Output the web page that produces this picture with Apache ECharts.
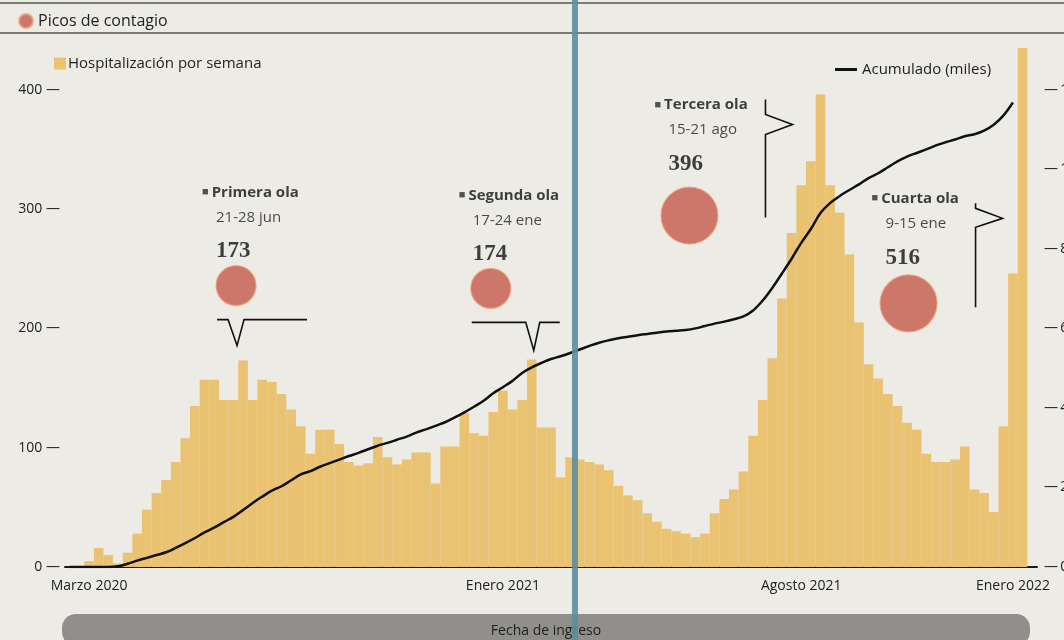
<!DOCTYPE html>
<html>
<head>
<meta charset="utf-8">
<script src="https://cdn.jsdelivr.net/npm/echarts@6/dist/echarts.min.js"></script>
<style>
html,body{margin:0;padding:0;background:#ecebe6;}
#chart{width:1064px;height:640px;}
</style>
</head>
<body>
<div id="chart"></div>
<script>
// ---------------- DATA ----------------
const weeks = [
 '2020-02-16','2020-02-23','2020-03-01','2020-03-08','2020-03-15','2020-03-22','2020-03-29',
 '2020-04-05','2020-04-12','2020-04-19','2020-04-26','2020-05-03','2020-05-10','2020-05-17',
 '2020-05-24','2020-05-31','2020-06-07','2020-06-14','2020-06-21','2020-06-28','2020-07-05',
 '2020-07-12','2020-07-19','2020-07-26','2020-08-02','2020-08-09','2020-08-16','2020-08-23',
 '2020-08-30','2020-09-06','2020-09-13','2020-09-20','2020-09-27','2020-10-04','2020-10-11',
 '2020-10-18','2020-10-25','2020-11-01','2020-11-08','2020-11-15','2020-11-22','2020-11-29',
 '2020-12-06','2020-12-13','2020-12-20','2020-12-27','2021-01-03','2021-01-10','2021-01-17',
 '2021-01-24','2021-01-31','2021-02-07','2021-02-14','2021-02-21','2021-02-28','2021-03-07',
 '2021-03-14','2021-03-21','2021-03-28','2021-04-04','2021-04-11','2021-04-18','2021-04-25',
 '2021-05-02','2021-05-09','2021-05-16','2021-05-23','2021-05-30','2021-06-06','2021-06-13',
 '2021-06-20','2021-06-27','2021-07-04','2021-07-11','2021-07-18','2021-07-25','2021-08-01',
 '2021-08-08','2021-08-15','2021-08-22','2021-08-29','2021-09-05','2021-09-12','2021-09-19',
 '2021-09-26','2021-10-03','2021-10-10','2021-10-17','2021-10-24','2021-10-31','2021-11-07',
 '2021-11-14','2021-11-21','2021-11-28','2021-12-05','2021-12-12','2021-12-19','2021-12-26',
 '2022-01-02','2022-01-09','2022-01-16'
];
// Hospitalización por semana
const hospitalizations = [
 null,null,5,16,10,3,12,
 28,48,62,73,88,108,135,
 157,157,140,140,173,140,157,
 155,145,132,118,95,115,115,
 103,88,85,87,109,92,86,
 90,96,96,70,101,101,129,
 112,110,130,148,132,140,174,
 117,117,75,92,90,88,86,
 81,68,60,56,45,38,32,
 30,28,25,28,45,57,65,
 80,110,140,175,225,280,320,
 340,396,320,297,262,205,170,
 158,145,135,121,115,95,88,
 88,90,101,65,62,46,118,
 246,516,null
];
// Acumulado (miles)
const cumulative = [
 0,0,0,0,0,0.02,0.08,
 0.16,0.23,0.30,0.37,0.48,0.60,0.73,
 0.87,0.99,1.13,1.26,1.43,1.61,1.77,
 1.92,2.03,2.18,2.33,2.41,2.52,2.61,
 2.70,2.79,2.87,2.96,3.05,3.12,3.20,
 3.28,3.38,3.46,3.55,3.64,3.76,3.89,
 4.03,4.18,4.37,4.52,4.68,4.88,5.02,
 5.13,5.23,5.30,5.38,5.47,5.56,5.64,
 5.70,5.75,5.79,5.83,5.86,5.89,5.92,
 5.94,5.96,6.00,6.06,6.12,6.17,6.23,
 6.30,6.45,6.70,7.02,7.38,7.75,8.15,
 8.50,8.90,9.15,9.33,9.48,9.62,9.78,
 9.90,10.05,10.20,10.32,10.41,10.50,10.60,
 10.68,10.75,10.83,10.88,10.97,11.12,11.35,
 11.68,null,null
];
// Picos de contagio
const peakNames  = ['Primera ola','Segunda ola','Tercera ola','Cuarta ola'];
const peakRanges = ['21-28 jun','17-24 ene','15-21 ago','9-15 ene'];
const peakWeeks  = ['2020-06-21','2021-01-17','2021-08-15','2022-01-09'];
const peakValues = [173,174,396,516];
// Tick labels
const xTickWeeks  = ['2020-03-01','2020-12-27','2021-08-01','2022-01-02'];
const xTickLabels = ['Marzo 2020','Enero 2021','Agosto 2021','Enero 2022'];
const leftTicks  = [0,100,200,300,400];
const rightTicks = [0,2,4,6,8,10,12];

// ---------------- STYLE ----------------
const FONT = '"Open Sans", "Noto Sans", sans-serif';
const BAR = '#e9c272';
const DOT = '#c65a4b';
const LEFT_MAX = 435, RIGHT_MAX = LEFT_MAX * 12 / 400;
// annotation placement (pixel offsets from each peak bar top)
const peakLook = [
  {off:[-7,-75],   size:40, lab:[-34,8]},
  {off:[-41,-71],  size:40, lab:[-32,8]},
  {off:[-131,121], size:57, lab:[-35,-1]},
  {off:[-114,352], size:57, lab:[-37,5]}
];
const bracketLook = [
  [[-26,-41],[-15,-41],[-6,-15],[1,-41],[64,-41]],
  [[-60,-37],[-6,-37],[2,-9],[8,-37],[28,-37]],
  [[-55,5],[-55,20],[-28,30],[-55,40],[-55,123]],
  [[-47,252],[-47,257],[-20,267],[-47,276],[-47,356]]
];

const chart = echarts.init(document.getElementById('chart'), null, {renderer:'canvas'});

const option = {
  backgroundColor: '#ecebe6',
  animation: false,
  textStyle: {fontFamily: FONT},
  grid: {left: 65, right: 27, top: 48, bottom: 73, containLabel: false, outerBoundsMode: 'none'},
  legend: [
    {data:['Picos de contagio'], left: 13, top: 8, icon:'circle', itemWidth: 14, itemHeight: 14,
     textStyle:{fontSize: 16, color:'#222', fontFamily: FONT}},
    {data:['Hospitalización por semana'], left: 49, top: 51, icon:'rect', itemWidth: 12, itemHeight: 12,
     itemGap: 0, textStyle:{fontSize: 15, color:'#222', fontFamily: FONT, padding:[0,0,0,-3]}},
    {data:['Acumulado (miles)'], left: 830, top: 57, icon:'rect', itemWidth: 22, itemHeight: 3,
     textStyle:{fontSize: 15, color:'#222', fontFamily: FONT}}
  ],
  xAxis: {
    type: 'category',
    data: weeks,
    boundaryGap: true,
    axisLine: {lineStyle: {color: '#1a1a1a', width: 2}},
    axisTick: {show: false},
    axisLabel: {
      interval: 0, margin: 12, fontSize: 14, color: '#222', fontFamily: FONT,
      formatter: v => { const i = xTickWeeks.indexOf(v); return i >= 0 ? xTickLabels[i] : ''; }
    }
  },
  yAxis: [
    {type:'value', min: 0, max: LEFT_MAX, interval: 100,
     axisLine:{show:false}, axisTick:{show:false}, splitLine:{show:false},
     axisLabel:{margin: 5, fontSize: 14, color:'#222', fontFamily: FONT,
       formatter: v => leftTicks.indexOf(v) >= 0 ? v + ' —' : ''}},
    {type:'value', min: 0, max: RIGHT_MAX, interval: 2,
     axisLine:{show:false}, axisTick:{show:false}, splitLine:{show:false},
     axisLabel:{margin: 7, fontSize: 14, color:'#222', fontFamily: FONT,
       formatter: v => rightTicks.indexOf(v) >= 0 ? '—\u2009' + v : ''}}
  ],
  series: [
    {
      name: 'Hospitalización por semana',
      type: 'bar',
      data: hospitalizations,
      barCategoryGap: '0%',
      itemStyle: {color: BAR},
      clip: true,
      z: 1
    },
    {
      name: 'Acumulado (miles)',
      type: 'line',
      yAxisIndex: 1,
      data: cumulative,
      smooth: 0.35,
      showSymbol: false,
      lineStyle: {color: '#111', width: 2.5},
      itemStyle: {color: '#111'},
      z: 3
    },
    {
      name: 'Picos de contagio',
      type: 'scatter',
      clip: false,
      z: 5,
      itemStyle: {color: DOT, borderColor: '#eba47c', borderWidth: 1.2},
      data: peakValues.map((v, i) => ({
        value: [peakWeeks[i], v],
        symbolSize: peakLook[i].size,
        symbolOffset: peakLook[i].off,
        label: {
          show: true, position: 'top', distance: 0, align: 'left',
          offset: peakLook[i].lab,
          formatter: '{b|■}{t|' + peakNames[i] + '}\n{d|' + peakRanges[i] + '}\n{v|' + v + '}',
          rich: {
            b: {fontSize: 11, color: '#2a2a2a', lineHeight: 25, padding:[0,3,1,0]},
            t: {fontSize: 15, fontWeight: 'bold', color: '#111', fontFamily: FONT, lineHeight: 25},
            d: {fontSize: 15, color: '#1e1e1e', fontFamily: FONT, lineHeight: 25, padding:[0,0,0,14]},
            v: {fontSize: 23, fontWeight: 'bold', color: '#111', fontFamily: '"Liberation Serif", "DejaVu Serif", serif', lineHeight: 43, padding:[0,0,0,14]}
          }
        }
      }))
    }
  ]
};
chart.setOption(option);

// annotation brackets, anchored to each peak through the axes
const gfx = [];
peakWeeks.forEach((w, i) => {
  const p = chart.convertToPixel({xAxisIndex: 0, yAxisIndex: 0}, [w, peakValues[i]]);
  gfx.push({
    type: 'polyline', z: 10, silent: true,
    shape: {points: bracketLook[i].map(d => [p[0] + d[0], p[1] + d[1]])},
    style: {stroke: '#111', lineWidth: 1.6, fill: null}
  });
});
// page rules, footer bar and gutter line
gfx.push(
  {type:'line', z: 10, silent:true, shape:{x1:0,y1:3,x2:1064,y2:3}, style:{stroke:'#555',lineWidth:1.5}},
  {type:'line', z: 10, silent:true, shape:{x1:0,y1:33,x2:1064,y2:33}, style:{stroke:'#555',lineWidth:1.5}},
  {type:'rect', z: 10, silent:true, shape:{x:62,y:614,width:968,height:32,r:14}, style:{fill:'#908f8b'}},
  {type:'text', z: 11, silent:true, x: 546, y: 631, style:{text:'Fecha de ingreso', fill:'#1e1e1e', font:'14px ' + FONT, textAlign:'center', textVerticalAlign:'middle'}},
  {type:'rect', z: 20, silent:true, shape:{x:572,y:0,width:6,height:640}, style:{fill:'#5d8e9c', opacity:0.9}}
);
chart.setOption({graphic: gfx});
</script>
</body>
</html>
